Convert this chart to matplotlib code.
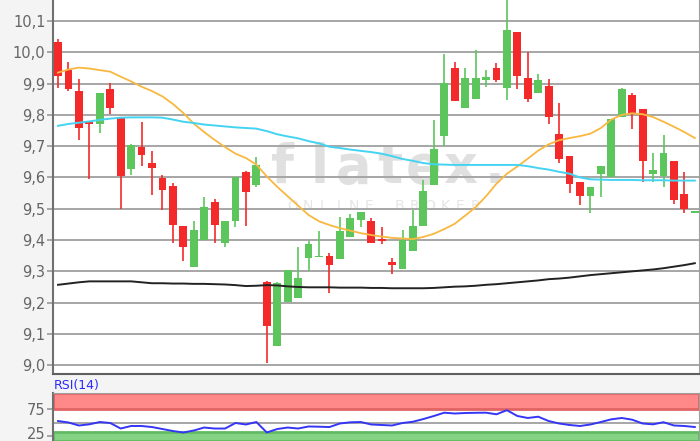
import matplotlib.pyplot as plt
import matplotlib.transforms as mtransforms
import numpy as np

# daily candles (open, high, low, close)
opens = [10.034, 9.943, 9.877, 9.775, 9.770, 9.882, 9.791, 9.626, 9.698, 9.645,
         9.599, 9.574, 9.446, 9.315, 9.400, 9.523, 9.390, 9.462, 9.617, 9.576,
         9.267, 9.060, 9.203, 9.216, 9.344, 9.345, 9.349, 9.340, 9.411, 9.464,
         9.462, 9.404, 9.331, 9.307, 9.365, 9.445, 9.576, 9.733, 9.951, 9.821,
         9.851, 9.912, 9.949, 9.887, 10.066, 9.917, 9.871, 9.892, 9.739, 9.670,
         9.587, 9.541, 9.610, 9.601, 9.792, 9.864, 9.819, 9.611, 9.606, 9.653,
         9.546, 9.488]
highs = [10.042, 9.969, 9.914, 9.776, 9.869, 9.901, 9.791, 9.706, 9.778, 9.683,
         9.608, 9.583, 9.446, 9.462, 9.539, 9.530, 9.461, 9.600, 9.620, 9.666,
         9.270, 9.265, 9.305, 9.379, 9.398, 9.429, 9.358, 9.475, 9.484, 9.491,
         9.470, 9.443, 9.342, 9.431, 9.496, 9.591, 9.782, 9.994, 9.970, 9.949,
         10.007, 9.943, 9.965, 10.200, 10.066, 10.000, 9.931, 9.914, 9.839, 9.670,
         9.587, 9.571, 9.637, 9.786, 9.885, 9.870, 9.819, 9.677, 9.736, 9.653,
         9.619, 9.490]
lows = [9.886, 9.877, 9.720, 9.595, 9.741, 9.802, 9.498, 9.608, 9.638, 9.544,
        9.496, 9.392, 9.334, 9.315, 9.400, 9.390, 9.377, 9.443, 9.445, 9.570,
        9.008, 9.060, 9.203, 9.216, 9.302, 9.345, 9.232, 9.340, 9.411, 9.441,
        9.392, 9.388, 9.292, 9.307, 9.365, 9.445, 9.576, 9.699, 9.845, 9.821,
        9.851, 9.890, 9.905, 9.848, 9.882, 9.842, 9.871, 9.771, 9.647, 9.550,
        9.512, 9.486, 9.537, 9.601, 9.792, 9.754, 9.587, 9.587, 9.570, 9.515,
        9.486, 9.488]
closes = [9.924, 9.882, 9.759, 9.772, 9.869, 9.821, 9.605, 9.704, 9.672, 9.629,
          9.560, 9.448, 9.377, 9.432, 9.507, 9.448, 9.461, 9.600, 9.555, 9.640,
          9.125, 9.262, 9.305, 9.278, 9.388, 9.349, 9.320, 9.429, 9.469, 9.491,
          9.392, 9.398, 9.320, 9.400, 9.445, 9.558, 9.690, 9.901, 9.845, 9.917,
          9.919, 9.922, 9.912, 10.071, 9.924, 9.850, 9.912, 9.792, 9.659, 9.578,
          9.541, 9.571, 9.637, 9.786, 9.882, 9.805, 9.651, 9.624, 9.677, 9.528,
          9.498, 9.490]

# moving averages
ma_short = [9.935, 9.945, 9.951, 9.948, 9.943, 9.938, 9.922, 9.907, 9.890, 9.876,
            9.859, 9.835, 9.806, 9.772, 9.745, 9.720, 9.697, 9.676, 9.662, 9.641,
            9.603, 9.570, 9.540, 9.510, 9.480, 9.460, 9.448, 9.438, 9.430, 9.422,
            9.416, 9.411, 9.407, 9.405, 9.403, 9.410, 9.420, 9.435, 9.452, 9.478,
            9.505, 9.540, 9.580, 9.612, 9.635, 9.660, 9.686, 9.706, 9.719, 9.726,
            9.732, 9.740, 9.758, 9.785, 9.800, 9.805, 9.802, 9.793, 9.778, 9.762,
            9.745, 9.726]
ma_mid = [9.765, 9.771, 9.775, 9.779, 9.784, 9.788, 9.791, 9.792, 9.792, 9.792,
          9.791, 9.785, 9.778, 9.774, 9.769, 9.766, 9.763, 9.760, 9.758, 9.756,
          9.748, 9.738, 9.731, 9.725, 9.716, 9.709, 9.698, 9.694, 9.689, 9.685,
          9.681, 9.676, 9.668, 9.659, 9.653, 9.646, 9.642, 9.641, 9.640, 9.640,
          9.640, 9.640, 9.640, 9.640, 9.640, 9.636, 9.630, 9.625, 9.618, 9.612,
          9.600, 9.594, 9.593, 9.592, 9.592, 9.592, 9.591, 9.591, 9.591, 9.590,
          9.590, 9.590]
ma_long = [9.257, 9.261, 9.265, 9.268, 9.268, 9.268, 9.268, 9.268, 9.265, 9.262,
           9.262, 9.261, 9.261, 9.260, 9.260, 9.259, 9.258, 9.256, 9.253, 9.254,
           9.256, 9.255, 9.252, 9.250, 9.249, 9.249, 9.249, 9.248, 9.248, 9.248,
           9.247, 9.247, 9.246, 9.246, 9.246, 9.246, 9.247, 9.249, 9.251, 9.252,
           9.254, 9.257, 9.259, 9.262, 9.265, 9.268, 9.271, 9.275, 9.277, 9.280,
           9.284, 9.288, 9.291, 9.294, 9.297, 9.300, 9.303, 9.306, 9.310, 9.315,
           9.320, 9.326]

rsi = [52.7, 50.0, 44.6, 46.7, 50.9, 49.1, 39.1, 43.7, 43.7, 41.8,
       38.2, 34.6, 31.9, 35.5, 40.9, 39.1, 39.1, 49.1, 46.4, 50.9,
       31.9, 38.2, 40.9, 39.1, 42.8, 42.4, 41.8, 48.2, 50.4, 50.9,
       46.4, 45.5, 44.6, 49.1, 51.4, 56.3, 61.8, 67.8, 66.3, 67.2,
       67.6, 67.8, 64.9, 72.3, 61.8, 58.2, 60.5, 52.7, 48.2, 45.5,
       43.7, 46.4, 50.9, 55.8, 58.2, 55.1, 48.2, 46.7, 50.5, 44.6,
       43.7, 41.8]

price_ticks = [9.0, 9.1, 9.2, 9.3, 9.4, 9.5, 9.6, 9.7, 9.8, 9.9, 10.0, 10.1]
price_labels = ["9,0", "9,1", "9,2", "9,3", "9,4", "9,5", "9,6", "9,7", "9,8", "9,9", "10,0", "10,1"]
rsi_ticks = [25, 75]

W, H = 700, 441
fig = plt.figure(figsize=(W / 100, H / 100), dpi=100, facecolor="#f4f4f4")

ax_l, ax_r = 52.5, 699
ax = fig.add_axes([ax_l / W, (H - 374) / H, (ax_r - ax_l) / W, 374 / H])
ax.set_facecolor("white")

x = np.arange(len(opens))
o = np.array(opens)
c = np.array(closes)
up = c >= o
red, green = "#f42a2a", "#5cc65c"
cols = np.where(up, green, red)

for yv in price_ticks:
    ax.axhline(yv, color="#a6a6a6", lw=1.4, zorder=1)

# watermark
wm = [("f", 283), ("l", 320), ("a", 353), ("t", 390), ("e", 424), ("x", 460), (".", 495)]
for ch, px in wm:
    ax.text(px / W, 1 - 183 / H, ch, transform=fig.transFigure, fontsize=38,
            fontweight="bold", color="#e0e0e0", ha="center", va="baseline", zorder=0.8)
for k, ch in enumerate("ONLINE BROKER"):
    ax.text((293 + 15.2 * k) / W, 1 - 210 / H, ch, transform=fig.transFigure,
            fontsize=10, color="#e6e6e6", ha="center", va="baseline", zorder=0.8)

ax.vlines(x, lows, highs, colors=cols, lw=1.2, zorder=2)
body_h = np.maximum(np.abs(c - o), 0.004)
ax.bar(x, body_h, bottom=np.minimum(o, c), width=0.75, color=cols, zorder=3)

ax.plot(x, ma_short, color="#f8b840", lw=1.3, zorder=4)
ax.plot(x, ma_mid, color="#45d3f2", lw=1.4, zorder=4)
ax.plot(x, ma_long, color="#222222", lw=1.4, zorder=4)

ax.set_xlim(-0.53, 61.4)
ax.set_ylim(8.972, 10.167)
ax.set_xticks([])
ax.set_yticks(price_ticks)
ax.set_yticklabels(price_labels)
ax.tick_params(axis="y", length=4, width=1.4, color="#a6a6a6", pad=1,
               labelsize=10.5, labelcolor="#666666")
ax.spines["top"].set_visible(False)
ax.spines["left"].set_color("#707070")
ax.spines["left"].set_linewidth(1.5)
ax.spines["bottom"].set_color("#606060")
ax.spines["bottom"].set_linewidth(1.5)
ax.spines["right"].set_color("#a0a0a0")

# RSI panel
rsi_top = 392.7
ax2 = fig.add_axes([ax_l / W, 0, (ax_r - ax_l) / W, (H - rsi_top) / H])
ax2.set_facecolor("white")
ax2.axhspan(75, 104, facecolor="#ff8888", edgecolor="#e06464", lw=2, zorder=1)
ax2.axhspan(16.5, 32.8, facecolor="#84d384", edgecolor="#62bb62", lw=2, zorder=1)
ax2.axhline(50, color="#a6a6a6", lw=1.4, zorder=1)
ax2.plot(x, rsi, color="#3535f5", lw=1.4, zorder=3)
ax2.set_xlim(-0.53, 61.4)
ax2.set_ylim(16.5, 104)
ax2.set_xticks([])
ax2.set_yticks(rsi_ticks)
ax2.tick_params(axis="y", length=4, width=1.4, color="#a6a6a6", pad=1,
                labelsize=10.5, labelcolor="#666666")
# keep the "25" label just inside the picture
for lab in ax2.get_yticklabels():
    if lab.get_text() == "25":
        lab.set_transform(lab.get_transform() +
                          mtransforms.ScaledTranslation(0, 3 / 100, fig.dpi_scale_trans))
ax2.spines["left"].set_color("#707070")
ax2.spines["left"].set_linewidth(1.5)
ax2.spines["top"].set_color("#a0a0a0")
ax2.spines["right"].set_color("#a0a0a0")
ax2.spines["bottom"].set_visible(False)

fig.text(54 / W, 1 - 385 / H, "RSI(14)", color="#2a2aff", fontsize=9, va="center", ha="left")

fig.savefig("out.png", dpi=100, facecolor=fig.get_facecolor())
